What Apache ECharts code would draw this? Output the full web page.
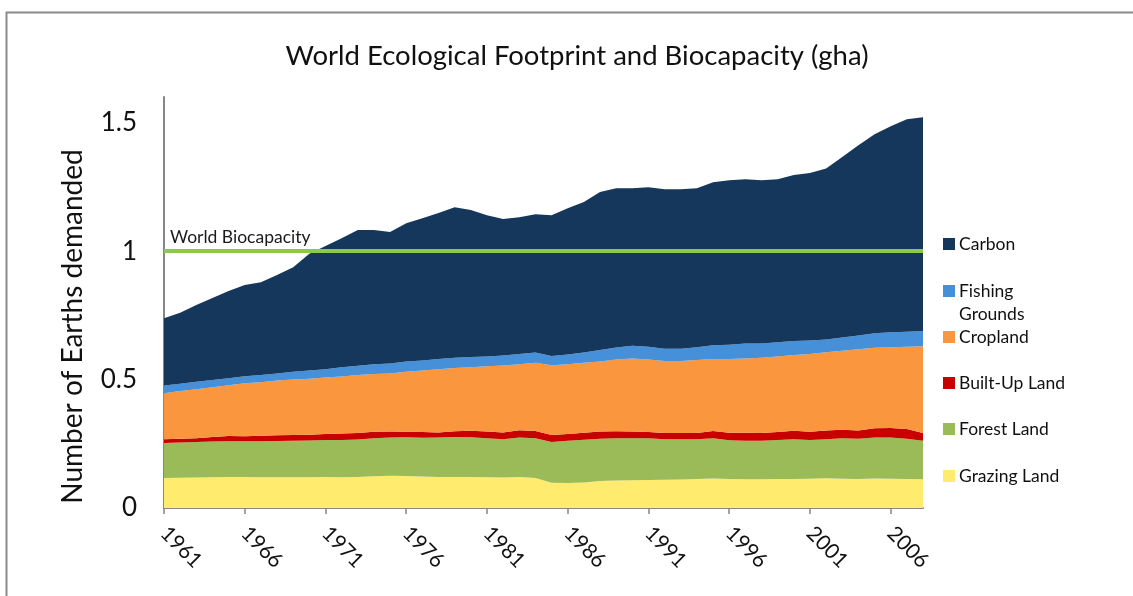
<!DOCTYPE html>
<html>
<head>
<meta charset="utf-8">
<title>World Ecological Footprint and Biocapacity</title>
<script src="https://cdn.jsdelivr.net/npm/echarts@6/dist/echarts.min.js"></script>
<style>
  html, body { margin: 0; padding: 0; background: #ffffff; }
  #chart { width: 1133px; height: 596px; }
</style>
</head>
<body>
<div id="chart"></div>
<script>
// Years 1961–2008
const years = [];
for (let y = 1961; y <= 2008; y++) years.push(String(y));

// Number of Earths demanded, per land type (stacked bottom to top)
const grazingLand = [
  0.117, 0.118, 0.119, 0.120, 0.121, 0.121, 0.120, 0.120, 0.120, 0.120,
  0.121, 0.120, 0.121, 0.124, 0.126, 0.125, 0.123, 0.121, 0.121, 0.121,
  0.120, 0.119, 0.121, 0.117, 0.098, 0.097, 0.099, 0.105, 0.107, 0.108,
  0.109, 0.110, 0.111, 0.113, 0.115, 0.113, 0.112, 0.112, 0.113, 0.113,
  0.114, 0.116, 0.114, 0.113, 0.115, 0.114, 0.113, 0.112
];
const forestLand = [
  0.136, 0.137, 0.138, 0.139, 0.139, 0.139, 0.140, 0.141, 0.142, 0.143,
  0.144, 0.145, 0.146, 0.148, 0.148, 0.150, 0.150, 0.153, 0.155, 0.154,
  0.152, 0.149, 0.153, 0.155, 0.159, 0.165, 0.167, 0.165, 0.165, 0.164,
  0.163, 0.158, 0.157, 0.155, 0.157, 0.151, 0.150, 0.150, 0.152, 0.155,
  0.151, 0.152, 0.158, 0.157, 0.159, 0.160, 0.157, 0.150
];
const builtUpLand = [
  0.015, 0.015, 0.015, 0.017, 0.020, 0.019, 0.021, 0.022, 0.022, 0.022,
  0.023, 0.025, 0.025, 0.025, 0.024, 0.022, 0.023, 0.020, 0.023, 0.026,
  0.026, 0.026, 0.029, 0.028, 0.027, 0.026, 0.027, 0.028, 0.027, 0.026,
  0.024, 0.024, 0.024, 0.024, 0.028, 0.029, 0.031, 0.030, 0.031, 0.033,
  0.032, 0.034, 0.033, 0.032, 0.036, 0.037, 0.038, 0.030
];
const cropland = [
  0.179, 0.185, 0.190, 0.194, 0.198, 0.207, 0.209, 0.213, 0.216, 0.218,
  0.220, 0.222, 0.226, 0.225, 0.226, 0.233, 0.239, 0.246, 0.246, 0.247,
  0.254, 0.261, 0.257, 0.265, 0.272, 0.272, 0.272, 0.272, 0.279, 0.284,
  0.282, 0.280, 0.280, 0.284, 0.280, 0.287, 0.289, 0.293, 0.294, 0.295,
  0.303, 0.304, 0.307, 0.316, 0.314, 0.315, 0.320, 0.338
];
const fishingGrounds = [
  0.030, 0.029, 0.029, 0.028, 0.027, 0.027, 0.028, 0.028, 0.030, 0.032,
  0.032, 0.036, 0.036, 0.038, 0.039, 0.040, 0.039, 0.040, 0.040, 0.040,
  0.038, 0.039, 0.040, 0.040, 0.036, 0.038, 0.040, 0.045, 0.047, 0.050,
  0.050, 0.048, 0.048, 0.050, 0.054, 0.056, 0.058, 0.055, 0.055, 0.054,
  0.052, 0.050, 0.052, 0.054, 0.056, 0.058, 0.058, 0.059
];
const carbon = [
  0.262, 0.276, 0.299, 0.320, 0.340, 0.355, 0.361, 0.383, 0.407, 0.455,
  0.480, 0.502, 0.528, 0.522, 0.511, 0.539, 0.554, 0.568, 0.586, 0.572,
  0.550, 0.531, 0.532, 0.539, 0.548, 0.569, 0.586, 0.615, 0.620, 0.613,
  0.621, 0.621, 0.621, 0.619, 0.634, 0.640, 0.640, 0.636, 0.635, 0.646,
  0.652, 0.666, 0.702, 0.740, 0.775, 0.802, 0.827, 0.832
];

// One Earth's worth of biocapacity
const biocapacity = 1;

const yTicks = ['0', '0.5', '1', '1.5'];

const FONT = 'Lato, "Open Sans", "Liberation Sans", sans-serif';

const layers = [
  { name: 'Grazing Land',    data: grazingLand,    color: '#FFEC6E' },
  { name: 'Forest Land',     data: forestLand,     color: '#9BBB59' },
  { name: 'Built-Up Land',   data: builtUpLand,    color: '#C80000' },
  { name: 'Cropland',        data: cropland,       color: '#F9963E' },
  { name: 'Fishing\nGrounds', data: fishingGrounds, color: '#4590D8' },
  { name: 'Carbon',          data: carbon,         color: '#15375C' }
];

const series = layers.map(function (l, i) {
  const s = {
    name: l.name,
    type: 'line',
    stack: 'footprint',
    data: l.data,
    showSymbol: false,
    symbol: 'none',
    lineStyle: { width: 0 },
    areaStyle: { color: l.color, opacity: 1 },
    itemStyle: { color: l.color },
    z: 2,
    silent: true
  };
  if (i === layers.length - 1) {
    s.markLine = {
      silent: true,
      symbol: 'none',
      lineStyle: { color: '#8CC84B', width: 4, type: 'solid' },
      label: {
        show: true,
        position: 'insideStartTop',
        formatter: 'World Biocapacity',
        fontFamily: FONT,
        fontSize: 17.5,
        color: '#1a1a1a',
        distance: [6, 5]
      },
      data: [{ yAxis: biocapacity }]
    };
  }
  return s;
});

// Legend drawn as a column on the right, top entry first
const legendEntries = layers.slice().reverse();
const legendY = [244, 291, 337, 383, 429, 476];
const legendGraphics = [];
legendEntries.forEach(function (l, i) {
  legendGraphics.push({
    type: 'rect',
    left: 943, top: legendY[i] - 6,
    shape: { width: 12, height: 12 },
    style: { fill: l.color }
  });
  legendGraphics.push({
    type: 'text',
    left: 959, top: legendY[i] - 11.5,
    style: {
      text: l.name,
      font: '17.5px ' + FONT,
      fill: '#111',
      lineHeight: 23
    }
  });
});

const chart = echarts.init(document.getElementById('chart'), null, { renderer: 'canvas' });
chart.setOption({
  animation: false,
  backgroundColor: '#ffffff',
  title: {
    text: 'World Ecological Footprint and Biocapacity (gha)',
    left: 572,
    top: 37,
    textAlign: 'center',
    textStyle: { fontFamily: FONT, fontSize: 27.5, fontWeight: 'normal', color: '#111' }
  },
  grid: { left: 164, right: 210, top: 97, bottom: 88, containLabel: false },
  xAxis: {
    type: 'category',
    data: years,
    boundaryGap: false,
    axisLine: { lineStyle: { color: '#868686', width: 2 } },
    axisTick: { show: true, interval: 4, length: 6, lineStyle: { color: '#868686', width: 1.5 } },
    axisLabel: {
      interval: 4,
      rotate: -45,
      margin: 22,
      fontFamily: FONT,
      fontSize: 21,
      color: '#111'
    },
    splitLine: { show: false }
  },
  yAxis: {
    type: 'value',
    min: 0,
    max: 1.6,
    interval: 0.5,
    name: 'Number of Earths demanded',
    nameLocation: 'middle',
    nameRotate: 90,
    nameGap: 77,
    nameTextStyle: { fontFamily: FONT, fontSize: 28, color: '#111', padding: [0, 48, 0, 0] },
    axisLine: { show: true, lineStyle: { color: '#868686', width: 2 } },
    axisTick: { show: false },
    axisLabel: {
      margin: 27,
      fontFamily: FONT,
      fontSize: 26,
      color: '#111',
      formatter: function (v) {
        const idx = Math.round(v / 0.5);
        return Math.abs(v - idx * 0.5) < 1e-6 && idx < yTicks.length ? yTicks[idx] : '';
      }
    },
    splitLine: { show: false }
  },
  series: series,
  graphic: [
    {
      type: 'rect',
      left: 4, top: 10,
      shape: { width: 1160, height: 620 },
      style: { fill: 'none', stroke: '#8a8a8a', lineWidth: 2 },
      silent: true
    }
  ].concat(legendGraphics)
});
</script>
</body>
</html>
